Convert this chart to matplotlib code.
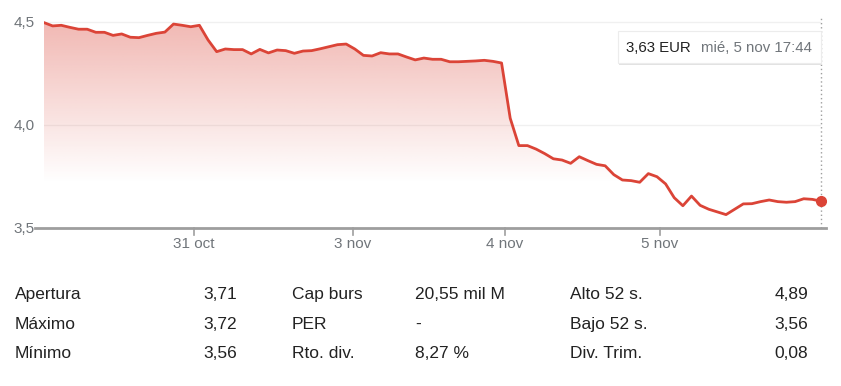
import numpy as np
import matplotlib.pyplot as plt
from matplotlib.patches import FancyBboxPatch

plt.rcParams['font.family'] = ['Liberation Sans', 'DejaVu Sans']

# price samples, roughly every half hour over five sessions
prices = [4.497, 4.481, 4.484, 4.474, 4.465, 4.465, 4.450, 4.450, 4.435, 4.442,
          4.426, 4.424, 4.435, 4.445, 4.451, 4.490, 4.484, 4.477, 4.484, 4.413,
          4.356, 4.369, 4.366, 4.366, 4.345, 4.367, 4.350, 4.364, 4.361, 4.348,
          4.359, 4.361, 4.370, 4.380, 4.390, 4.393, 4.369, 4.338, 4.335, 4.351,
          4.345, 4.345, 4.330, 4.316, 4.325, 4.319, 4.319, 4.307, 4.307, 4.309,
          4.311, 4.314, 4.309, 4.301, 4.033, 3.900, 3.900, 3.883, 3.861, 3.836,
          3.830, 3.814, 3.846, 3.827, 3.809, 3.802, 3.759, 3.733, 3.730, 3.722,
          3.764, 3.749, 3.714, 3.647, 3.608, 3.655, 3.610, 3.591, 3.578, 3.565,
          3.591, 3.617, 3.618, 3.628, 3.636, 3.628, 3.625, 3.628, 3.642, 3.639,
          3.630]
day_labels = ['31 oct', '3 nov', '4 nov', '5 nov']
day_pos = [17.4, 35.8, 53.4, 71.3]
y_ticks = [3.5, 4.0, 4.5]
y_labels = ['3,5', '4,0', '4,5']

tooltip_price = '3,63 EUR'
tooltip_time = 'mié, 5 nov 17:44'

stat_rows = [
    ['Apertura', '3,71', 'Cap burs', '20,55 mil M', 'Alto 52 s.', '4,89'],
    ['Máximo', '3,72', 'PER', '-', 'Bajo 52 s.', '3,56'],
    ['Mínimo', '3,56', 'Rto. div.', '8,27 %', 'Div. Trim.', '0,08'],
]

RED = '#db4437'
GREY = '#70757a'
W, H = 841, 386

fig = plt.figure(figsize=(W / 100, H / 100), dpi=100)

ymin, ymax = 3.5, 4.52
px_per_unit = 206
top_px = 228 - (ymax - ymin) * px_per_unit
ax = fig.add_axes([44 / W, 1 - 228 / H, (821 - 44) / W, (228 - top_px) / H])
x = np.arange(len(prices))
ax.set_xlim(0, len(prices) - 1)
ax.set_ylim(ymin, ymax)

# gradient fill under the line
grad = np.zeros((200, 2, 4))
rgb = np.array([0xdb, 0x44, 0x37]) / 255
grad[..., :3] = rgb
yy = np.linspace(ymax, ymin, 200)
grad[..., 3] = (np.clip((yy - 3.72) / (4.5 - 3.72), 0, 1) * 0.38)[:, None]
im = ax.imshow(grad, extent=[0, len(prices) - 1, ymin, ymax], aspect='auto',
               interpolation='bilinear', zorder=1)
poly = ax.fill_between(x, prices, ymin, color='none', lw=0)
clip = poly.get_paths()[0]
im.set_clip_path(clip, transform=ax.transData)

for v in [4.0, 4.5]:
    ax.axhline(v, color='#f0f0f0', lw=1, zorder=0.5)

ax.plot(x, prices, color=RED, lw=2, zorder=3, solid_joinstyle='round')
ax.plot(x[-1], prices[-1], 'o', color=RED, ms=7, zorder=4, clip_on=False)

# dotted cursor line at the last point
ax.plot([x[-1], x[-1]], [ymin, ymax], color='#9e9e9e', lw=1, ls=(0, (1, 2)),
        zorder=2, clip_on=False)

for s in ax.spines.values():
    s.set_visible(False)
ax.set_xticks([])
ax.set_yticks([])

# baseline axis
ax.plot([-0.0116, 1.006], [0, 0], transform=ax.transAxes, color='#9e9e9e',
        lw=2, clip_on=False, zorder=5)
for p, lab in zip(day_pos, day_labels):
    ax.plot([p, p], [ymin, ymin - 7 / px_per_unit], color='#9e9e9e', lw=1.2,
            clip_on=False, zorder=5)
    ax.text(p, ymin - 20 / px_per_unit, lab, ha='center', va='baseline',
            fontsize=11, color=GREY, clip_on=False)
for v, lab in zip(y_ticks, y_labels):
    ax.text(-9 / 777, v - 5 / px_per_unit, lab, transform=ax.get_yaxis_transform(),
            ha='right', va='baseline', fontsize=11, color=GREY)

# tooltip
fx = lambda px: px / W
fy = lambda py: 1 - py / H
shadow = FancyBboxPatch((fx(619), fy(65)), fx(822) - fx(619), fy(32) - fy(65),
                        boxstyle='square,pad=0', transform=fig.transFigure,
                        fc='#e2e2e2', ec='none', zorder=6)
fig.patches.append(shadow)
box = FancyBboxPatch((fx(618), fy(63)), fx(821) - fx(618), fy(31) - fy(63),
                     boxstyle='square,pad=0', transform=fig.transFigure,
                     fc='white', ec='#ececec', lw=0.8, zorder=7)
fig.patches.append(box)
fig.text(fx(626), fy(52), tooltip_price, ha='left', va='baseline', fontsize=10.8,
         color='#222222', zorder=8)
fig.text(fx(812), fy(52), tooltip_time, ha='right', va='baseline', fontsize=10.8,
         color=GREY, zorder=8)

# key stats table
row_y = [299, 329, 358]
cols = [(15, 'left'), (237, 'right'), (292, 'left'), (415, 'left'),
        (570, 'left'), (808, 'right')]
for r, row in enumerate(stat_rows):
    for (cx, ha), txt in zip(cols, row):
        fig.text(fx(cx), fy(row_y[r]), txt, ha=ha, va='baseline',
                 fontsize=12.5, color='#222222')

fig.savefig('out.png', dpi=100)
